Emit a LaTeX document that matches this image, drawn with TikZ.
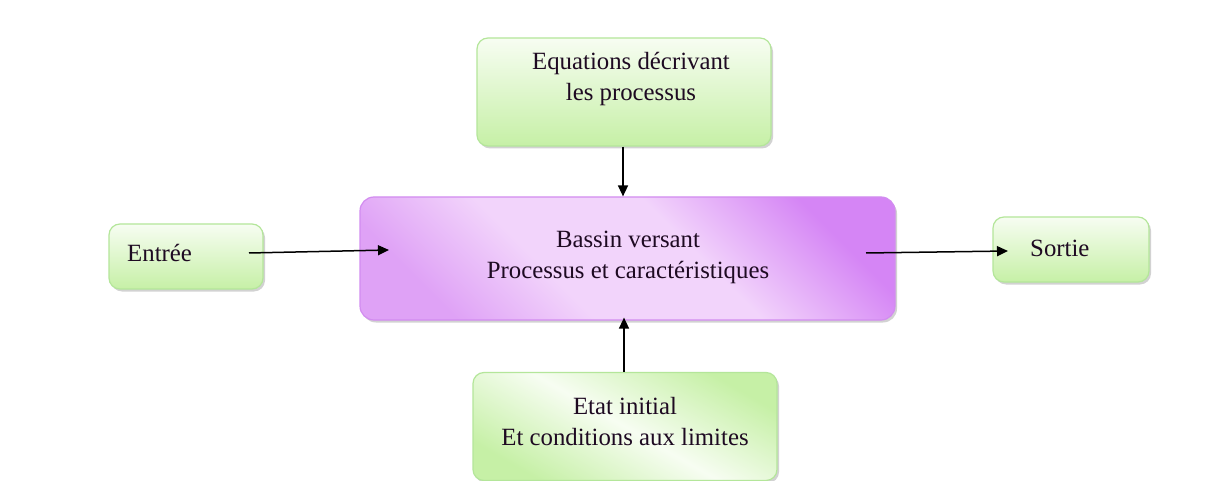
\documentclass[tikz,border=0pt]{standalone}
\usepackage{fontspec}
\setmainfont{Liberation Serif}
\usetikzlibrary{arrows.meta,shadows}
\definecolor{gBorder}{HTML}{B4E69A}
\definecolor{gLight}{HTML}{F7FDF2}
\definecolor{gDark}{HTML}{C6F0A6}
\definecolor{pBorder}{HTML}{D28CF0}
\definecolor{pLight}{HTML}{F2D4FB}
\definecolor{pDark}{HTML}{D585F5}
\definecolor{pMid}{HTML}{DFA2F6}
\definecolor{txt}{HTML}{1E0A22}
\pgfdeclarehorizontalshading{bvshade}{100bp}{color(0bp)=(pMid); color(25bp)=(pMid); color(40bp)=(pLight); color(58bp)=(pLight); color(75bp)=(pDark); color(100bp)=(pDark)}
\tikzset{
  gbox/.style={draw=gBorder, line width=1.2pt, rounded corners=11pt,
    top color=gLight, bottom color=gDark,
    drop shadow={opacity=0.35, shadow xshift=2pt, shadow yshift=-2.5pt}},
  pbox/.style={draw=pBorder, line width=1.2pt, rounded corners=14pt,
    shading=bvshade, shading angle=45,
    drop shadow={opacity=0.35, shadow xshift=2pt, shadow yshift=-2.5pt}},
  lbl/.style={font=\fontsize{24.8}{31}\selectfont, text=txt, align=center, inner sep=0pt},
  arr/.style={line width=1.5pt, -{Triangle[length=11pt,width=10pt]}}
}
\begin{document}
\begin{tikzpicture}[x=1pt,y=-1pt]
\useasboundingbox[fill=white] (0,0) rectangle (1213,481);
% boxes
\node[gbox, minimum width=294pt, minimum height=108pt] (eq) at (624,92) {};
\node[pbox, minimum width=535pt, minimum height=123pt] (bv) at (627.5,258.5) {};
\node[gbox, minimum width=154pt, minimum height=65pt] (in) at (186,256.5) {};
\node[gbox, minimum width=156pt, minimum height=65pt] (out) at (1071,249.5) {};
\node[gbox, minimum width=304pt, minimum height=108pt, top color=gDark, bottom color=gDark, middle color=gLight, shading angle=-30] (ei) at (625,426.5) {};
% texts
\node[lbl] (eq-t) at (631,79) {Equations décrivant\\les processus};
\node[lbl] (bv-t) at (628,257) {Bassin versant\\Processus et caractéristiques};
\node[lbl, anchor=west] (in-t) at (127,253) {Entrée};
\node[lbl, anchor=west] (out-t) at (1030,248) {Sortie};
\node[lbl] (ei-t) at (625,422) {Etat initial\\Et conditions aux limites};
% connector ends
\coordinate (a1s) at (249,253);
\coordinate (a1e) at (389,250);
\coordinate (a2s) at (866,253);
\coordinate (a2e) at (1008,251);
% arrows
\draw[arr] (eq.south -| 623,0) -- (bv.north -| 623,0);
\draw[arr] (a1s) -- (a1e);
\draw[arr] (a2s) -- (a2e);
\draw[arr] (ei.north -| 624,0) -- ([yshift=3pt]bv.south -| 624,0);
\end{tikzpicture}
\end{document}
